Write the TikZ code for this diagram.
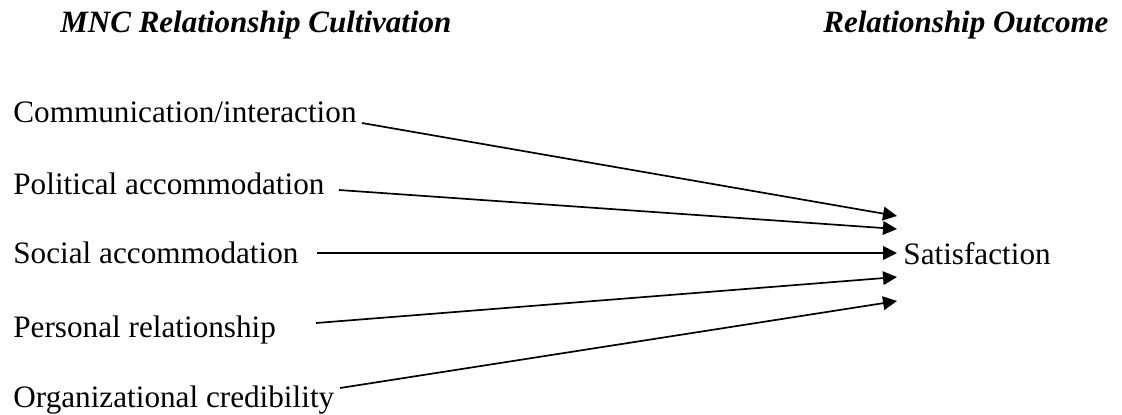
\documentclass[tikz,border=0pt]{standalone}
\usepackage{fontspec}
\setmainfont{Liberation Serif}
\usetikzlibrary{arrows.meta}
\begin{document}
\begin{tikzpicture}[x=0.5pt,y=-0.5pt,
  lbl/.style={anchor=base west,inner sep=0pt,font=\fontsize{15.6pt}{18pt}\selectfont},
  head/.style={anchor=base west,inner sep=0pt,font=\fontsize{15.5pt}{18pt}\selectfont\bfseries\itshape},
  conn/.style={line width=0.85pt,-{Triangle[length=7pt,width=6.8pt]}}]
\useasboundingbox (0,0) rectangle (1122,414);
\node[head] (h1) at (60,32) {MNC Relationship Cultivation};
\node[head] (h2) at (823,32) {Relationship Outcome};
\node[lbl] (a1) at (13,122) {Communication/interaction};
\node[lbl] (a2) at (13,194) {Political accommodation};
\node[lbl] (a3) at (13,263) {Social accommodation};
\node[lbl] (a4) at (13,337) {Personal relationship};
\node[lbl] (a5) at (13,407) {Organizational credibility};
\node[lbl] (sat) at (903,264) {Satisfaction};
\coordinate (s1) at (362,123);
\coordinate (s2) at (339,190);
\coordinate (s3) at (317,253);
\coordinate (s4) at (316,323);
\coordinate (s5) at (340,388);
\coordinate (t1) at (897,216);
\coordinate (t2) at (897,229);
\coordinate (t3) at (897,253);
\coordinate (t4) at (897,277);
\coordinate (t5) at (897,301);
\draw[conn] (s1) -- (t1);
\draw[conn] (s2) -- (t2);
\draw[conn] (s3) -- (t3);
\draw[conn] (s4) -- (t4);
\draw[conn] (s5) -- (t5);
\end{tikzpicture}
\end{document}
